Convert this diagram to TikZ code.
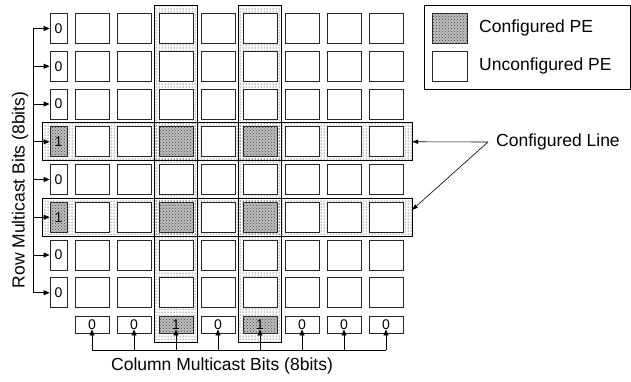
\documentclass[tikz,border=0pt]{standalone}
\usepackage{fontspec}
\setmainfont{Liberation Sans}
\usetikzlibrary{patterns,arrows.meta}
\begin{document}
\begin{tikzpicture}[x=1pt,y=-1pt,
  pe/.style={draw=black!85, line width=0.8pt, fill=white, minimum width=34pt, minimum height=30pt, inner sep=0pt},
  cpe/.style={draw=black!85, line width=0.8pt, fill=black!25, postaction={pattern=crosshatch dots, pattern color=black!75}, minimum width=34pt, minimum height=30pt, inner sep=0pt},
  rbit/.style={draw=black!85, line width=0.8pt, fill=white, minimum width=17pt, minimum height=30pt, inner sep=0pt, font=\fontsize{14}{14}\selectfont},
  crbit/.style={rbit, fill=black!25, postaction={pattern=crosshatch dots, pattern color=black!75}},
  cbit/.style={draw=black!85, line width=0.8pt, fill=white, minimum width=34pt, minimum height=17pt, inner sep=0pt, font=\fontsize{14}{14}\selectfont},
  ccbit/.style={cbit, fill=black!25, postaction={pattern=crosshatch dots, pattern color=black!75}},
  frame/.style={draw=black, line width=0.8pt, pattern=dots, pattern color=black},
  frameline/.style={draw=black, line width=0.8pt},
  conn/.style={line width=0.8pt, -{Triangle[length=6pt,width=5pt]}},
  thin/.style={line width=0.6pt, -{Triangle[length=6pt,width=4pt]}},
  lbl/.style={font=\fontsize{17.5}{17.5}\selectfont, inner sep=0pt}
]
\useasboundingbox (0,0) rectangle (631,381);
\fill[white] (0,0) rectangle (631,381);

% frames (fill first)
\path[frame] (42,122.75) rectangle (412,160.75);
\path[frame] (42,198.25) rectangle (412,236.25);
\path[frame] (154.5,5) rectangle (197.5,342);
\path[frame] (238.5,5) rectangle (281.5,342);
\draw[frameline] (42,122.75) rectangle (412,160.75);
\draw[frameline] (42,198.25) rectangle (412,236.25);
\draw[frameline] (154.5,5) rectangle (197.5,342);
\draw[frameline] (238.5,5) rectangle (281.5,342);

% PE grid
\foreach \i in {0,...,7}{
  \foreach \j in {0,...,7}{
    \pgfmathsetmacro{\cx}{92+42*\j}
    \pgfmathsetmacro{\cy}{28.5+37.75*\i}
    \node[pe] (p\i\j) at (\cx,\cy) {};
  }
}
\node[cpe] at (p32) {};
\node[cpe] at (p34) {};
\node[cpe] at (p52) {};
\node[cpe] at (p54) {};

% row bits
\foreach \i/\b in {0/0,1/0,2/0,4/0,6/0,7/0}{
  \pgfmathsetmacro{\cy}{28.5+37.75*\i}
  \node[rbit] (r\i) at (58.5,\cy) {\b};
}
\foreach \i in {3,5}{
  \pgfmathsetmacro{\cy}{28.5+37.75*\i}
  \node[crbit] (r\i) at (58.5,\cy) {1};
}

% column bits
\foreach \j/\b in {0/0,1/0,3/0,5/0,6/0,7/0}{
  \pgfmathsetmacro{\cx}{92+42*\j}
  \node[cbit] (c\j) at (\cx,324.5) {\raisebox{-3pt}{\b}};
}
\foreach \j in {2,4}{
  \pgfmathsetmacro{\cx}{92+42*\j}
  \node[ccbit] (c\j) at (\cx,324.5) {\raisebox{-3pt}{1}};
}

% row multicast connectors
\coordinate (rtop) at (33,28.5);
\coordinate (rbot) at (33,292.75);
\draw[line width=0.8pt] (rtop) -- (rbot);
\foreach \i in {0,...,7}{
  \draw[conn] (rtop |- r\i.west) -- (r\i.west);
}
\node[lbl, rotate=90] (rowlbl) at (20,190) {Row Multicast Bits (8bits)};

% column multicast connectors
\coordinate (cl) at (92,350);
\coordinate (cr) at (386,350);
\draw[line width=0.8pt] (cl) -- (cr);
\foreach \j in {0,...,7}{
  \draw[conn] (cl -| c\j.south) -- ([yshift=4pt]c\j.south);
}
\node[lbl] (collbl) at (222,366) {Column Multicast Bits (8bits)};

% legend
\draw[line width=0.8pt] (424,5) rectangle (630.5,89);
\node[cpe, minimum width=35pt] (lc) at (449.5,28) {};
\node[pe, minimum width=35pt] (lu) at (449.5,66) {};
\node[lbl, anchor=west] (lct) at (479,28) {Configured PE};
\node[lbl, anchor=west] (lut) at (479,66) {Unconfigured PE};

% configured line
\node[lbl, anchor=west] (cline) at (496,142) {Configured Line};
\coordinate (cs) at (488,142);
\coordinate (ce2) at (412,210);
\draw[thin] (cs) -- (412,141.75);
\draw[thin] (cs) -- (ce2);
\end{tikzpicture}
\end{document}
